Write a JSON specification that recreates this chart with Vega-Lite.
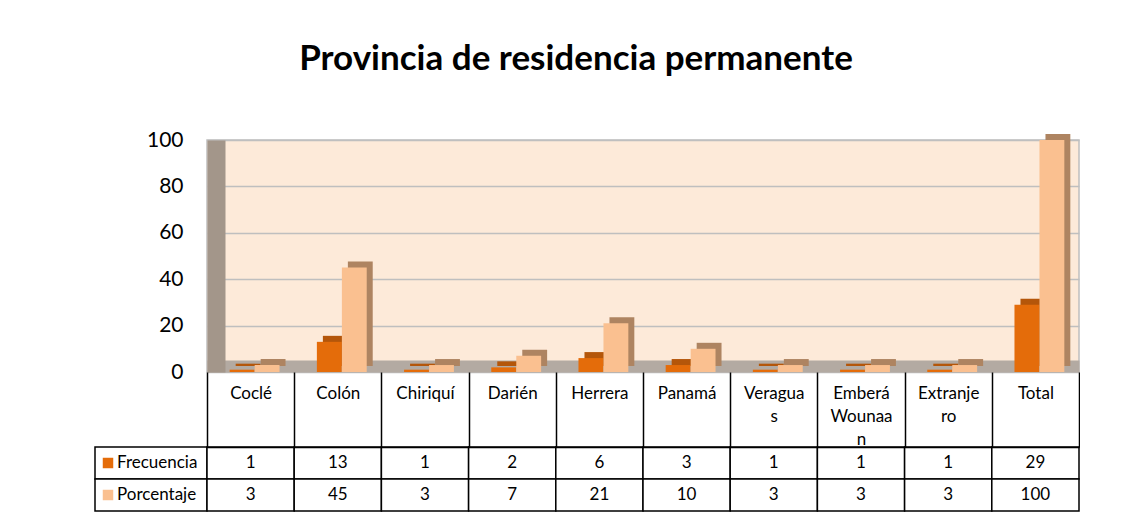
{
  "$schema": "https://vega.github.io/schema/vega-lite/v6.json",
  "padding": {"left": 94, "top": 42, "right": 0, "bottom": 0},
  "background": "white",
  "title": {"text": "Provincia de residencia permanente", "font": "Lato", "fontSize": 35, "fontWeight": "bold", "color": "#000000", "anchor": "middle", "offset": 51, "dx": -11},
  "datasets": {
    "tabla": [
      {"provincia": "Coclé", "serie": "Frecuencia", "valor": 1},
      {"provincia": "Coclé", "serie": "Porcentaje", "valor": 3},
      {"provincia": "Colón", "serie": "Frecuencia", "valor": 13},
      {"provincia": "Colón", "serie": "Porcentaje", "valor": 45},
      {"provincia": "Chiriquí", "serie": "Frecuencia", "valor": 1},
      {"provincia": "Chiriquí", "serie": "Porcentaje", "valor": 3},
      {"provincia": "Darién", "serie": "Frecuencia", "valor": 2},
      {"provincia": "Darién", "serie": "Porcentaje", "valor": 7},
      {"provincia": "Herrera", "serie": "Frecuencia", "valor": 6},
      {"provincia": "Herrera", "serie": "Porcentaje", "valor": 21},
      {"provincia": "Panamá", "serie": "Frecuencia", "valor": 3},
      {"provincia": "Panamá", "serie": "Porcentaje", "valor": 10},
      {"provincia": "Veraguas", "serie": "Frecuencia", "valor": 1},
      {"provincia": "Veraguas", "serie": "Porcentaje", "valor": 3},
      {"provincia": "Emberá Wounaan", "serie": "Frecuencia", "valor": 1},
      {"provincia": "Emberá Wounaan", "serie": "Porcentaje", "valor": 3},
      {"provincia": "Extranjero", "serie": "Frecuencia", "valor": 1},
      {"provincia": "Extranjero", "serie": "Porcentaje", "valor": 3},
      {"provincia": "Total", "serie": "Frecuencia", "valor": 29},
      {"provincia": "Total", "serie": "Porcentaje", "valor": 100}
    ],
    "series": [{"serie": "Frecuencia"}, {"serie": "Porcentaje"}]
  },
  "config": {"view": {"stroke": null}, "font": "Lato"},
  "columns": 2,
  "spacing": {"row": 75, "column": 0},
  "bounds": "flush",
  "concat": [
    {
      "width": 112,
      "height": 232,
      "data": {"name": "series"},
      "mark": {"type": "point", "opacity": 0},
      "encoding": {}
    },
    {
      "width": 872,
      "height": 232,
      "data": {"name": "tabla"},
      "view": {"fill": "#FDEAD9", "stroke": "#BFBFBF", "strokeWidth": 1.5},
      "encoding": {
        "x": {"field": "provincia", "type": "nominal", "sort": null, "scale": {"paddingInner": 0.43, "paddingOuter": 0.215},
          "axis": {"orient": "bottom", "labels": false, "ticks": false, "title": null, "domainColor": "#B3AAA2", "domainWidth": 12, "offset": -6}},
        "y": {"field": "valor", "type": "quantitative", "scale": {"domain": [0, 100], "nice": false},
          "axis": {"values": [0, 20, 40, 60, 80, 100], "grid": true, "gridColor": "#BFBFBF", "gridWidth": 1.5, "domain": true, "domainColor": "#A3968A", "domainWidth": 18, "offset": -9, "ticks": false, "labelFontSize": 21, "labelPadding": 33, "labelColor": "#000000", "labelFont": "Lato", "title": null}}
      },
      "layer": [
        {
          "transform": [{"filter": "datum.serie === 'Frecuencia'"}],
          "mark": {"type": "bar", "width": {"band": 0.5}, "xOffset": -2.5, "yOffset": -6, "y2Offset": -6, "color": "#B4560A"}
        },
        {
          "transform": [{"filter": "datum.serie === 'Frecuencia'"}],
          "mark": {"type": "bar", "width": {"band": 0.5}, "xOffset": -8.5, "color": "#E46C0A"}
        },
        {
          "transform": [{"filter": "datum.serie === 'Porcentaje'"}],
          "mark": {"type": "bar", "width": {"band": 0.5}, "xOffset": 22.5, "yOffset": -6, "y2Offset": -6, "color": "#AE8461"}
        },
        {
          "transform": [{"filter": "datum.serie === 'Porcentaje'"}],
          "mark": {"type": "bar", "width": {"band": 0.5}, "xOffset": 16.5, "color": "#FAC090"}
        }
      ]
    },
    {
      "width": 112,
      "height": 64,
      "data": {"name": "series"},
      "encoding": {"y": {"field": "serie", "type": "nominal", "sort": null, "axis": null}},
      "layer": [
        {"mark": {"type": "rect", "fill": "white", "stroke": "#000000", "strokeWidth": 1.5}},
        {
          "mark": {"type": "point", "shape": "square", "filled": true, "size": 110, "opacity": 1, "xOffset": -43},
          "encoding": {"color": {"field": "serie", "type": "nominal", "scale": {"domain": ["Frecuencia", "Porcentaje"], "range": ["#E46C0A", "#FAC090"]}, "legend": null}}
        },
        {
          "mark": {"type": "text", "align": "left", "dx": -34, "fontSize": 17, "color": "#000000"},
          "encoding": {"text": {"field": "serie", "type": "nominal"}}
        }
      ]
    },
    {
      "width": 872,
      "height": 64,
      "data": {"name": "tabla"},
      "encoding": {
        "x": {"field": "provincia", "type": "nominal", "sort": null, "scale": {"paddingInner": 0, "paddingOuter": 0},
          "axis": {"orient": "top", "tickBand": "extent", "tickSize": 75, "tickWidth": 1.5, "tickColor": "#000000", "domainColor": "#000000", "domainWidth": 1.5, "labelAngle": 0, "labelBaseline": "top", "labelPadding": -13, "labelFontSize": 17, "labelColor": "#000000", "labelLineHeight": 23, "labelOverlap": false, "labelFlush": false, "labelLimit": 0, "title": null,
            "labelExpr": "datum.value === 'Veraguas' ? ['Veragua', 's'] : datum.value === 'Emberá Wounaan' ? ['Emberá', 'Wounaa', 'n'] : datum.value === 'Extranjero' ? ['Extranje', 'ro'] : datum.value"}},
        "y": {"field": "serie", "type": "nominal", "sort": null, "axis": null}
      },
      "layer": [
        {"mark": {"type": "rect", "fill": "white", "stroke": "#000000", "strokeWidth": 1.5}},
        {"mark": {"type": "text", "fontSize": 17, "color": "#000000"}, "encoding": {"text": {"field": "valor", "type": "quantitative"}}}
      ]
    }
  ]
}
